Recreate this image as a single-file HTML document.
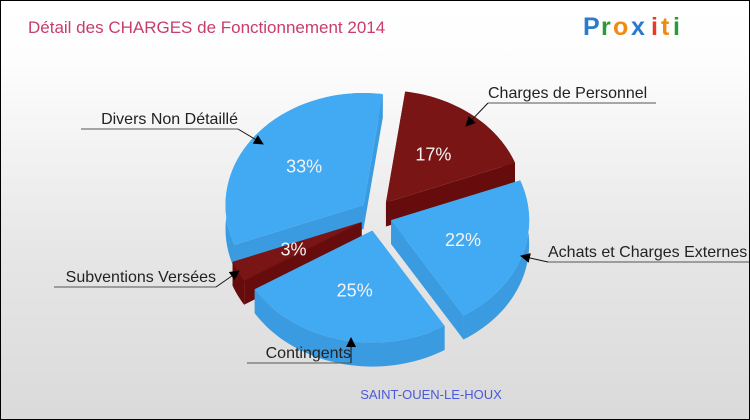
<!DOCTYPE html>
<html><head><meta charset="utf-8"><style>
body{margin:0;}
#c{position:relative;width:748px;height:418px;border:1px solid #000;background:linear-gradient(#fff,#fdfdfd 15%,#e6e6e6 60%,#dadada);overflow:hidden;font-family:"Liberation Sans",sans-serif;}
svg{position:absolute;left:0;top:0}
</style></head><body>
<div id="c">
<svg id="s" width="750" height="420">
<text x="27" y="32" font-size="17" fill="#c83c6e">Détail des CHARGES de Fonctionnement 2014</text>
<g font-size="25" font-weight="bold">
<text x="582" y="34" fill="#2a7bd0">P</text><text x="600" y="34" fill="#2a9a3a">r</text><text x="612" y="34" fill="#f08a10">o</text><text x="630" y="34" fill="#2a7bd0">x</text><text x="650" y="34" fill="#e83a2a">i</text><text x="660" y="34" fill="#f08a10">t</text><text x="672" y="34" fill="#2a9a3a">i</text></g>
<text x="430" y="398" font-size="13" fill="#4a5ad8" text-anchor="middle">SAINT-OUEN-LE-HOUX</text>
<defs><marker id="ar" markerWidth="10" markerHeight="10" refX="9" refY="5" orient="auto"><path d="M0,0 L10,5 L0,10z" fill="#000"/></marker></defs>
</svg></div>
<script>
const labels=["Charges de Personnel","Achats et Charges Externes","Contingents","Subventions Versées","Divers Non Détaillé"];
const values=[17,22,25,3,33];
const colors=["#7a1515","#42aaf2","#42aaf2","#7a1515","#42aaf2"];
const sides=["#660c0c","#3a9be0","#3a9be0","#660c0c","#3a9be0"];
const s=document.getElementById('s');
const NS="http://www.w3.org/2000/svg";
const cx=375,cy=214,rx=138,ry=112,dep=24,start=-82,exp=16;
function el(t,a){const e=document.createElementNS(NS,t);for(const k in a)e.setAttribute(k,a[k]);s.appendChild(e);return e;}
const tot=values.reduce((a,b)=>a+b,0);
let a0=start;const sl=[];
values.forEach((v,i)=>{const a1=a0+v/tot*360;sl.push({i,a0,a1,m:(a0+a1)/2});a0=a1;});
function pt(ox,oy,a,dy){const r=a*Math.PI/180;return [ox+rx*Math.cos(r),oy+ry*Math.sin(r)+(dy||0)];}
const order=[...sl].sort((p,q)=>Math.sin(p.m*Math.PI/180)-Math.sin(q.m*Math.PI/180));
order.forEach(o=>{
 const mr=o.m*Math.PI/180,ox=cx+exp*Math.cos(mr),oy=cy+exp*Math.sin(mr);
 [o.a0,o.a1].forEach(a=>{const p=pt(ox,oy,a);el('path',{d:`M${ox},${oy}L${p[0]},${p[1]}L${p[0]},${p[1]+dep}L${ox},${oy+dep}Z`,fill:sides[o.i]});});
 let d='';const n=40;
 for(let k=0;k<=n;k++){const p=pt(ox,oy,o.a0+(o.a1-o.a0)*k/n);d+=(k?'L':'M')+p[0]+','+p[1];}
 for(let k=n;k>=0;k--){const p=pt(ox,oy,o.a0+(o.a1-o.a0)*k/n,dep);d+='L'+p[0]+','+p[1];}
 const side=el('path',{d:d+'Z',fill:sides[o.i]});
 
 
 let t=`M${ox},${oy}`;
 for(let k=0;k<=n;k++){const p=pt(ox,oy,o.a0+(o.a1-o.a0)*k/n);t+='L'+p[0]+','+p[1];}
 const top=el('path',{d:t+'Z',fill:colors[o.i]});
 
 
 const lp=[ox+rx*0.55*Math.cos(mr),oy+ry*0.55*Math.sin(mr)];
 const tx=el('text',{x:lp[0],y:lp[1]+6,'font-size':18,fill:'#f4f4f4','text-anchor':'middle'});
 tx.textContent=values[o.i]+'%';
 
 
});
const callouts=[[487,97,655,97,465,125,'start'],[547,256,748,256,520,255,'start'],[246,357,350,357,350,337,'end'],[53,281,215,281,238,270,'end'],[80,123,237,123,262,143,'end']];
callouts.forEach((c,i)=>{
 const [x1,y1,x2,y2,ax,ay,anc]=c;
 el('polyline',{points:`${x1},${y1+5} ${x2},${y1+5}`,stroke:'#555',fill:'none'});
 el('line',{x1:anc==='start'?x1:x2,y1:y1+5,x2:ax,y2:ay,stroke:'#111','marker-end':'url(#ar)'});
 const t=el('text',{x:anc==='start'?x1:x2,y:y1,'font-size':16,fill:'#222','text-anchor':anc});
 t.textContent=labels[i];
 
 
});
</script></body></html>
